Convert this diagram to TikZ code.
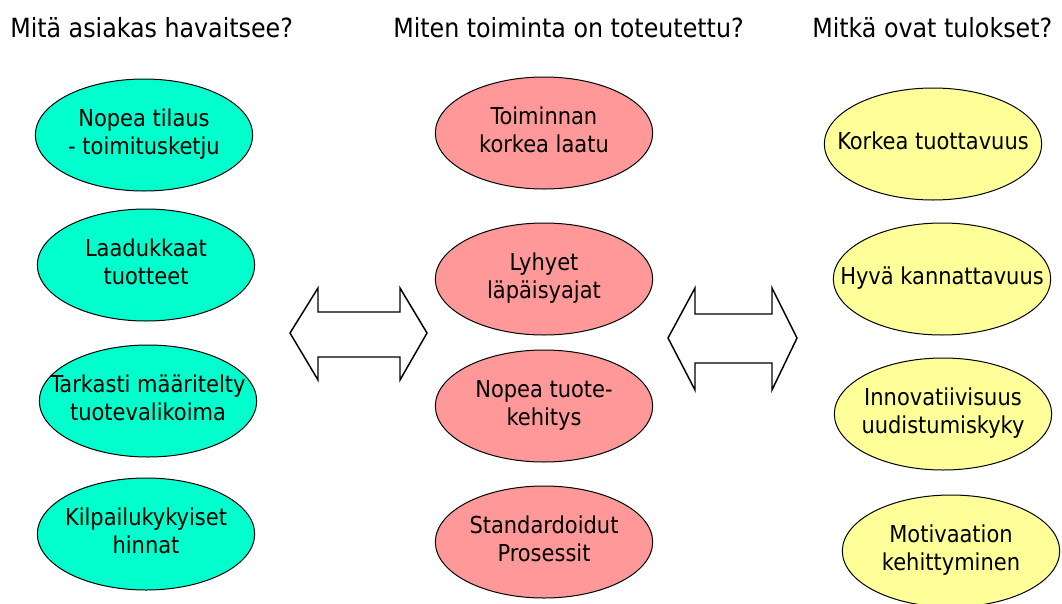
\documentclass[tikz,border=0pt]{standalone}
\usepackage{fontspec}
\setmainfont{DejaVu Sans Condensed}
\usetikzlibrary{shapes.geometric}
\definecolor{turq}{RGB}{0,255,204}
\definecolor{rose}{RGB}{255,153,153}
\definecolor{lemon}{RGB}{255,255,153}
\newcommand{\inblob}[1]{\makebox[0pt]{\begin{tabular}{@{}c@{}}#1\end{tabular}}}
\begin{document}
\begin{tikzpicture}[x=0.75pt,y=-0.75pt,
  blob/.style={ellipse,draw=black,line width=0.75pt,inner sep=0pt,
    minimum width=163pt,minimum height=84pt,font=\fontsize{17.5}{20.5}\selectfont},
  head/.style={anchor=west,inner sep=0pt,font=\fontsize{19.8}{23}\selectfont},
  twoway/.style={draw=black,line width=1.1pt,fill=white,line join=miter}]
	          \useasboundingbox (0,0) rectangle (1062,603);
	          \node[head] (h1) at (10,28) {Mitä asiakas havaitsee?};
	          \node[head] (h2) at (393,28) {Miten toiminta on toteutettu?};
	          \node[head] (h3) at (812,28) {Mitkä ovat tulokset?};
	          \begin{scope}[every node/.style={blob,fill=turq}]
	            \node (a) at (144,135) {\inblob{Nopea tilaus\\- toimitusketju}};
	            \node (b) at (146,265) {\inblob{Laadukkaat\\tuotteet}};
	            \node (c) at (148,401) {\inblob{Tarkasti määritelty\\tuotevalikoima}};
	            \node (d) at (146,534) {\inblob{Kilpailukykyiset\\hinnat}};
	          \end{scope}
	          \begin{scope}[every node/.style={blob,fill=rose}]
	            \node (e) at (544,133) {\inblob{Toiminnan\\korkea laatu}};
	            \node (f) at (544,279) {\inblob{Lyhyet\\läpäisyajat}};
	            \node (g) at (544,406) {\inblob{Nopea tuote-\\kehitys}};
	            \node (h) at (544,542) {\inblob{Standardoidut\\Prosessit}};
	          \end{scope}
	          \begin{scope}[every node/.style={blob,fill=lemon}]
	            \node (i) at (933,144) {\inblob{Korkea tuottavuus}};
	            \node (j) at (942,279) {\inblob{Hyvä kannattavuus}};
	            \node (k) at (943,414) {\inblob{Innovatiivisuus\\uudistumiskyky}};
	            \node (l) at (951,551) {\inblob{Motivaation\\kehittyminen}};
	          \end{scope}
	          \draw[twoway] (290,333) -- (318,288) -- (318,312) -- (400,312) -- (400,288)
	            -- (427,333) -- (400,380) -- (400,357) -- (318,357) -- (318,380) -- cycle;
	          \draw[twoway] (668,338) -- (695,288) -- (695,314) -- (772,314) -- (772,288)
	            -- (797,338) -- (772,390) -- (772,363) -- (695,363) -- (695,390) -- cycle;
	        \end{tikzpicture}
\end{document}
